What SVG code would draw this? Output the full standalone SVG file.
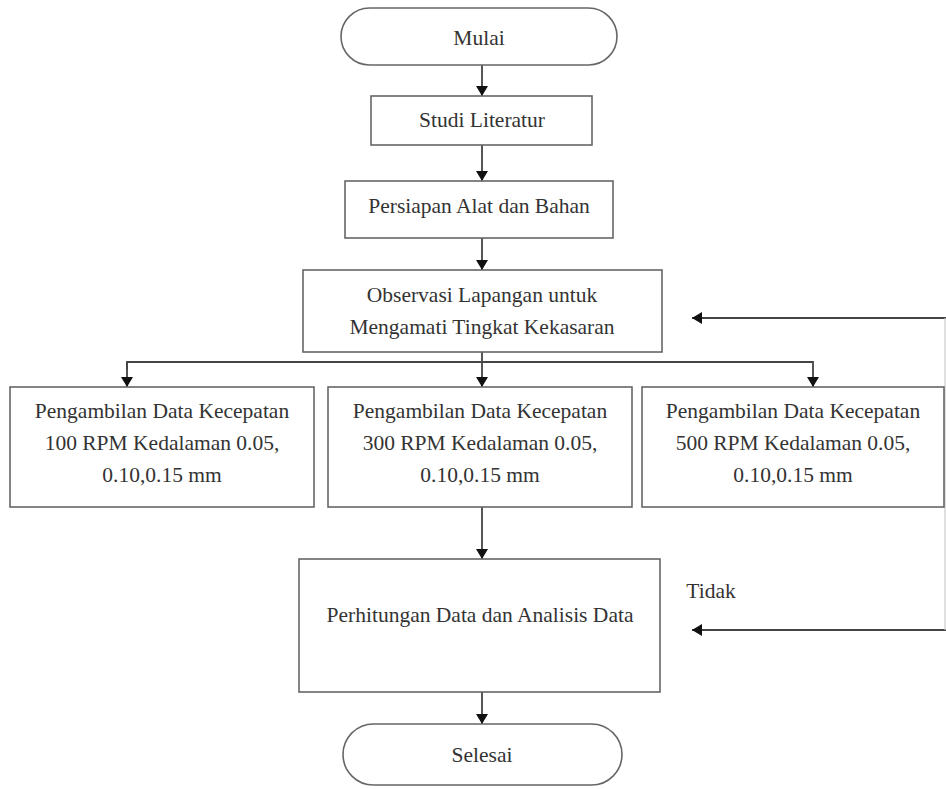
<svg xmlns="http://www.w3.org/2000/svg" width="946" height="789" viewBox="0 0 946 789">
<defs>
<style>
.box{fill:#fff;stroke:#666;stroke-width:1.6}
.t{font-family:"Liberation Serif","Times New Roman",serif;font-size:21.5px;fill:#333;text-anchor:middle}
.c{fill:none;stroke:#444;stroke-width:1.8}
.faint{fill:none;stroke:#ccc;stroke-width:1.2}
</style>
<marker id="ah" viewBox="0 0 10 12" refX="10" refY="6" markerWidth="10" markerHeight="12" markerUnits="userSpaceOnUse" orient="auto">
<path d="M0,0 L10,6 L0,12 z" fill="#111"/>
</marker>
</defs>
<rect width="946" height="789" fill="#fff"/>
<g id="connectors">
<line class="c" x1="482" y1="65" x2="482" y2="96" marker-end="url(#ah)"/>
<line class="c" x1="482" y1="145" x2="482" y2="181" marker-end="url(#ah)"/>
<line class="c" x1="482" y1="238" x2="482" y2="270" marker-end="url(#ah)"/>
<line class="c" x1="482" y1="352" x2="482" y2="387" marker-end="url(#ah)"/>
<polyline class="c" points="127,370 127,362 813,362 813,387" marker-end="url(#ah)"/>
<line class="c" x1="127" y1="362" x2="127" y2="387" marker-end="url(#ah)"/>
<line class="c" x1="482" y1="507" x2="482" y2="559" marker-end="url(#ah)"/>
<line class="c" x1="482" y1="692" x2="482" y2="724" marker-end="url(#ah)"/>
<line class="c" x1="946" y1="318" x2="692" y2="318" marker-end="url(#ah)"/>
<line class="c" x1="946" y1="630" x2="692" y2="630" marker-end="url(#ah)"/>
<line class="faint" x1="945" y1="318" x2="945" y2="630"/>
</g>
<g id="mulai">
<rect class="box" x="341" y="8" width="276" height="57" rx="28.5"/>
<text class="t" x="479" y="45">Mulai</text>
</g>
<g id="studi">
<rect class="box" x="371" y="96" width="221" height="49"/>
<text class="t" x="482" y="127">Studi Literatur</text>
</g>
<g id="persiapan">
<rect class="box" x="345" y="181" width="268" height="57"/>
<text class="t" x="479" y="213">Persiapan Alat dan Bahan</text>
</g>
<g id="observasi">
<rect class="box" x="303" y="270" width="359" height="82"/>
<text class="t" x="482" y="302">Observasi Lapangan untuk</text>
<text class="t" x="482" y="334">Mengamati Tingkat Kekasaran</text>
</g>
<g id="data100">
<rect class="box" x="10" y="387" width="304" height="120"/>
<text class="t" x="162" y="418">Pengambilan Data Kecepatan</text>
<text class="t" x="162" y="450">100 RPM Kedalaman 0.05,</text>
<text class="t" x="162" y="482">0.10,0.15 mm</text>
</g>
<g id="data300">
<rect class="box" x="328" y="387" width="304" height="120"/>
<text class="t" x="480" y="418">Pengambilan Data Kecepatan</text>
<text class="t" x="480" y="450">300 RPM Kedalaman 0.05,</text>
<text class="t" x="480" y="482">0.10,0.15 mm</text>
</g>
<g id="data500">
<rect class="box" x="642" y="387" width="302" height="120"/>
<text class="t" x="793" y="418">Pengambilan Data Kecepatan</text>
<text class="t" x="793" y="450">500 RPM Kedalaman 0.05,</text>
<text class="t" x="793" y="482">0.10,0.15 mm</text>
</g>
<g id="perhitungan">
<rect class="box" x="299" y="559" width="361" height="133"/>
<text class="t" x="480" y="622">Perhitungan Data dan Analisis Data</text>
</g>
<g id="tidak">
<text class="t" x="711" y="598">Tidak</text>
</g>
<g id="selesai">
<rect class="box" x="343" y="724" width="279" height="61" rx="30.5"/>
<text class="t" x="482" y="762">Selesai</text>
</g>
</svg>
